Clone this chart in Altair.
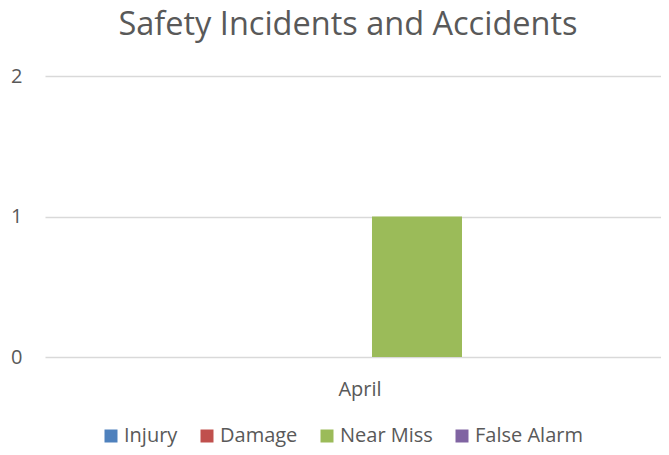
import altair as alt
import pandas as pd

months = ["April"]
series = ["Injury", "Damage", "Near Miss", "False Alarm"]
values = [0, 0, 1, 0]
colors = ["#4F81BD", "#C0504D", "#9BBB59", "#8064A2"]
y_ticks = [0, 1, 2]

df = pd.DataFrame({
    "month": months * len(series),
    "series": series,
    "count": values,
})

FONT = "Open Sans"
TXT = "#595959"
GRID = "#d9d9d9"

chart = alt.Chart(df).mark_bar().encode(
    x=alt.X("month:N",
            scale=alt.Scale(paddingInner=0, paddingOuter=0.213, align=0.538),
            axis=alt.Axis(title=None, labelAngle=0, domain=False, ticks=False,
                          labelPadding=22, labelFontSize=20, labelFont=FONT,
                          labelColor=TXT)),
    xOffset=alt.XOffset("series:N", sort=series,
                        scale=alt.Scale(paddingInner=0.2105, paddingOuter=0)),
    y=alt.Y("count:Q",
            scale=alt.Scale(domain=[0, 2]),
            axis=alt.Axis(values=y_ticks, labelExpr="'' + datum.value", title=None,
                          domain=False, ticks=False, grid=True, gridColor=GRID,
                          gridWidth=1.3, labelPadding=23, labelFontSize=20,
                          labelFont=FONT, labelColor=TXT)),
    color=alt.Color("series:N", sort=series,
                    scale=alt.Scale(domain=series, range=colors),
                    legend=alt.Legend(title=None, orient="none", direction="horizontal",
                                      legendX=56, legendY=350,
                                      symbolType="square", symbolSize=169,
                                      symbolStrokeWidth=0, labelFontSize=20,
                                      labelFont=FONT, labelColor=TXT,
                                      columnPadding=19, labelOffset=3, padding=0)),
).properties(
    width=616,
    height=281,
    title=alt.TitleParams("Safety Incidents and Accidents", fontSize=32.5, font=FONT,
                          color=TXT, fontWeight="normal", anchor="middle",
                          offset=25, dx=-5),
    autosize=alt.AutoSizeParams(type="none"),
    padding={"left": 37, "top": 68, "right": 0, "bottom": 90},
).configure_view(stroke=None)

chart.save("out.html", embed_options={"renderer": "svg", "actions": False})
